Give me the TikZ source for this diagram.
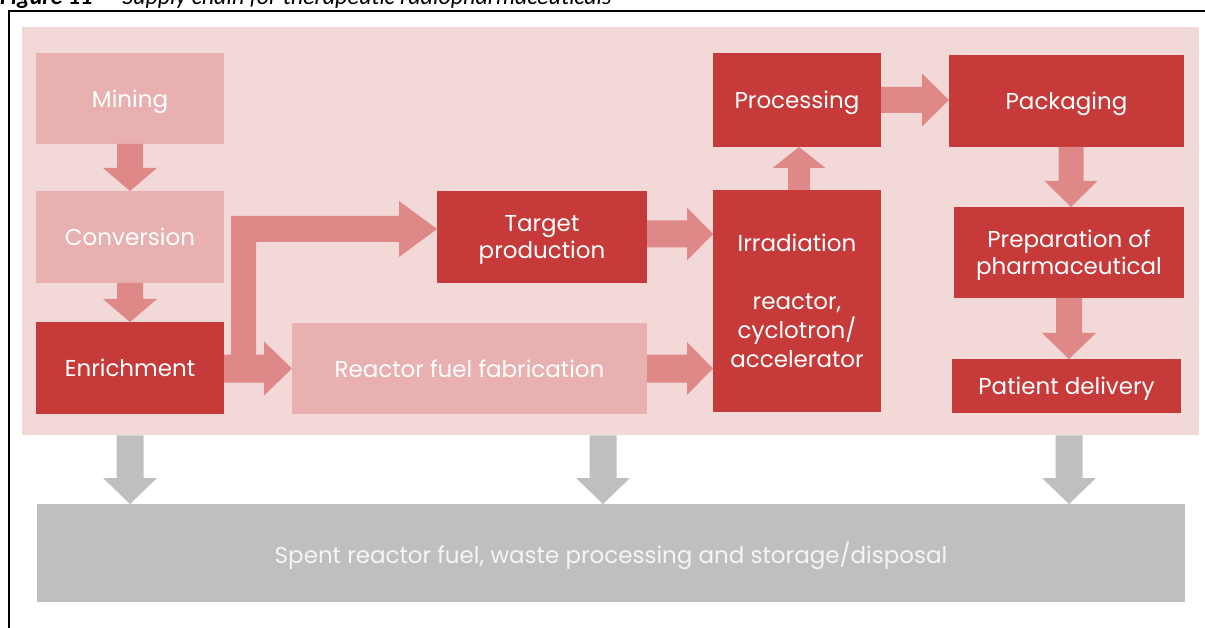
\documentclass[tikz,border=0pt]{standalone}
\usepackage{fontspec}
\setmainfont{Poppins}
\newfontfamily\capfont{Carlito}
\usetikzlibrary{calc}
\definecolor{bgpink}{RGB}{243,216,216}
\definecolor{lightred}{RGB}{232,176,176}
\definecolor{darkred}{RGB}{199,58,58}
\definecolor{arrred}{RGB}{222,136,135}
\definecolor{greybox}{RGB}{191,191,191}
\tikzset{
  blk/.style={anchor=north west, inner sep=0pt, outer sep=0pt, align=center,
    text=white, text depth=0pt, font=\fontsize{23}{28}\selectfont},
  lightblk/.style={blk, fill=lightred},
  darkblk/.style={blk, fill=darkred},
  greyblk/.style={blk, fill=greybox, text=white!96!black},
  arr/.style={fill=arrred},
  garr/.style={fill=greybox}
}
% vertical block arrow: #1 start, #2 tip, #3 half shaft, #4 half head, #5 signed head length, #6 style
\newcommand\vblk[6]{\fill[#6] let \p1=(#1), \p2=(#2) in
  (\x2-#3,\y1) -- (\x2-#3,\y2+#5) -- (\x2-#4,\y2+#5) -- (\x2,\y2) -- (\x2+#4,\y2+#5) -- (\x2+#3,\y2+#5) -- (\x2+#3,\y1) -- cycle;}
% horizontal block arrow (to the right)
\newcommand\hblk[6]{\fill[#6] let \p1=(#1), \p2=(#2) in
  (\x1,\y2-#3) -- (\x2-#5,\y2-#3) -- (\x2-#5,\y2-#4) -- (\x2,\y2) -- (\x2-#5,\y2+#4) -- (\x2-#5,\y2+#3) -- (\x1,\y2+#3) -- cycle;}
\begin{document}
\begin{tikzpicture}[x=1pt,y=-1pt]
\useasboundingbox (0,0) rectangle (1205,628);
\clip (0,0) rectangle (1205,628);
% caption (cut off at top, as in the source)
\node[anchor=base west, inner sep=0pt, font=\capfont\fontsize{24}{28}\selectfont] (cap) at (0,4.5)
  {\textbf{\textit{Figure 11}}\hspace{9pt}\textit{–}\hspace{9pt}\textit{Supply chain for therapeutic radiopharmaceuticals}};
% frame
\draw[line width=2pt] (9,640) -- (9,11) -- (1215,11);
% background
\node[anchor=north west, inner sep=0pt, fill=bgpink, minimum width=1177pt, minimum height=408pt] (bg) at (22,27) {};
% boxes
\node[lightblk, minimum width=188pt, minimum height=91pt] (mining) at (36,53) {Mining};
\node[lightblk, minimum width=188pt, minimum height=92pt] (conv) at (36,191) {Conversion};
\node[darkblk, minimum width=188pt, minimum height=92pt] (enrich) at (36,322) {Enrichment};
\node[darkblk, minimum width=210pt, minimum height=92pt, font=\fontsize{23}{27}\selectfont] (target) at (437,191) {Target\\production};
\node[lightblk, minimum width=355pt, minimum height=91pt] (fuel) at (292,323) {Reactor fuel fabrication};
\node[darkblk, minimum width=168pt, minimum height=222pt, font=\fontsize{23}{29}\selectfont] (irrad) at (713,190) {Irradiation\\[29pt]reactor,\\cyclotron/\\accelerator};
\node[darkblk, minimum width=168pt, minimum height=94pt] (proc) at (713,53) {Processing};
\node[darkblk, minimum width=235pt, minimum height=92pt] (pack) at (949,55) {Packaging};
\node[darkblk, minimum width=230pt, minimum height=91pt, font=\fontsize{23}{27}\selectfont] (prep) at (954,207) {Preparation of\\pharmaceutical};
\node[darkblk, minimum width=229pt, minimum height=54pt] (patient) at (952,359) {Patient delivery};
\node[greyblk, minimum width=1148pt, minimum height=98pt] (spent) at (37,504) {Spent reactor fuel, waste processing and storage/disposal};
% red block arrows
\vblk{mining.south}{conv.north}{13pt}{27pt}{23pt}{arr}
\vblk{conv.south}{enrich.north}{13pt}{27pt}{23pt}{arr}
\hblk{enrich.east}{fuel.west}{14pt}{27pt}{28pt}{arr}
\fill[arr] let \p1=(enrich.east), \p2=($(target.west)+(0,-8)$) in
  (\x1+7pt,\y1+13pt) -- (\x1+7pt,\y2+13pt) -- (\x2-38pt,\y2+13pt) -- (\x2-38pt,\y2+28pt) -- (\x2,\y2)
  -- (\x2-38pt,\y2-28pt) -- (\x2-38pt,\y2-13pt) -- (\x1+32pt,\y2-13pt) -- (\x1+32pt,\y1+13pt) -- cycle;
\hblk{target.east}{$(irrad.west|-target.east)+(0,-3)$}{13.5pt}{26.5pt}{26pt}{arr}
\hblk{fuel.east}{irrad.west|-fuel.east}{14pt}{26.5pt}{26pt}{arr}
\vblk{irrad.north}{$(proc.south)+(2,0)$}{11pt}{26.5pt}{-21pt}{arr}
\hblk{proc.east}{pack.west|-proc.east}{13pt}{26.5pt}{27pt}{arr}
\vblk{$(pack.south)+(5,0)$}{$(prep.north)+(2,0)$}{12.5pt}{26.5pt}{26pt}{arr}
\vblk{prep.south}{patient.north-|prep.south}{13pt}{27pt}{26pt}{arr}
% grey arrows
\vblk{bg.south-|mining.south}{spent.north-|mining.south}{13.5pt}{27pt}{26pt}{garr}
\vblk{$(bg.south)+(-8,0)$}{$(spent.north)+(-8,0)$}{13.5pt}{27pt}{26pt}{garr}
\vblk{bg.south-|prep.south}{spent.north-|prep.south}{13.5pt}{27pt}{26pt}{garr}
\end{tikzpicture}
\end{document}
